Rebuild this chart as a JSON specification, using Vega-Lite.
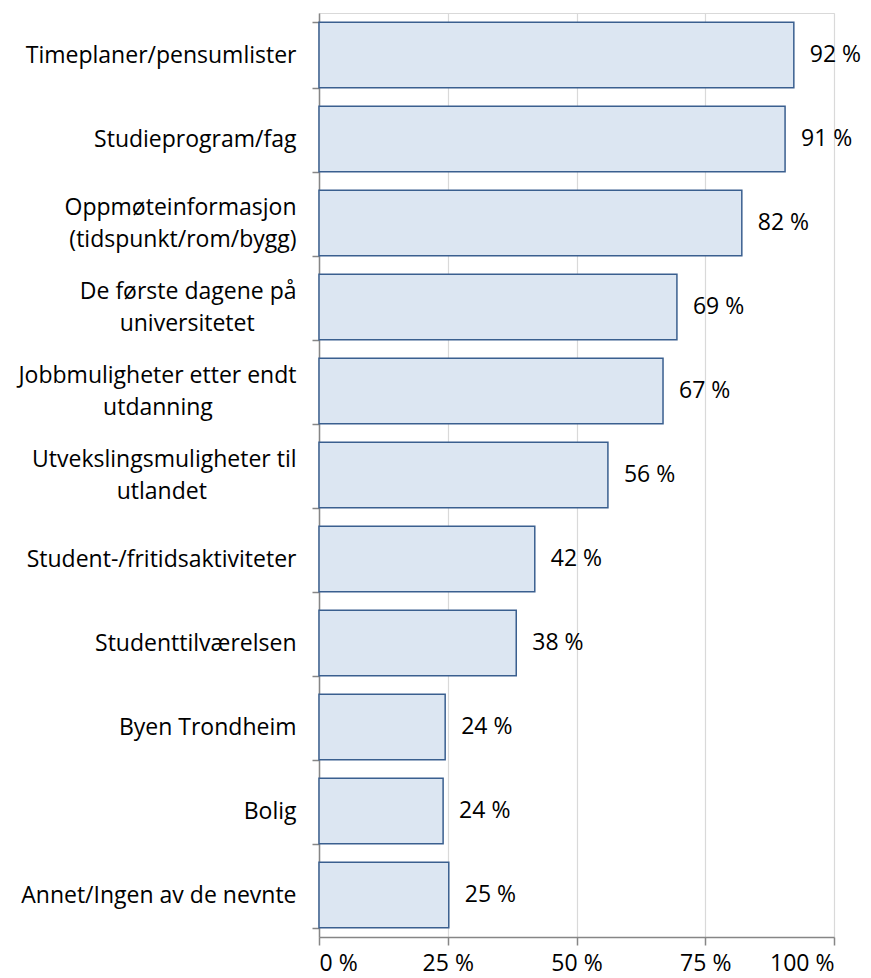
{
  "$schema": "https://vega.github.io/schema/vega-lite/v6.json",
  "autosize": {"type": "none"},
  "padding": {"left": 319, "top": 13, "right": 37, "bottom": 41},
  "width": 515,
  "height": 924,
  "background": "white",
  "config": {
    "view": {"stroke": "#d9d9d9", "strokeWidth": 1},
    "font": "Open Sans"
  },
  "data": {
    "values": [
      {"key": "a", "value": 0.922, "label": "92 %"},
      {"key": "b", "value": 0.905, "label": "91 %"},
      {"key": "c", "value": 0.821, "label": "82 %"},
      {"key": "d", "value": 0.695, "label": "69 %"},
      {"key": "e", "value": 0.668, "label": "67 %"},
      {"key": "f", "value": 0.561, "label": "56 %"},
      {"key": "g", "value": 0.419, "label": "42 %"},
      {"key": "h", "value": 0.383, "label": "38 %"},
      {"key": "i", "value": 0.245, "label": "24 %"},
      {"key": "j", "value": 0.241, "label": "24 %"},
      {"key": "k", "value": 0.252, "label": "25 %"}
    ]
  },
  "encoding": {
    "y": {
      "field": "key",
      "type": "nominal",
      "sort": null,
      "scale": {"paddingInner": 0.22, "paddingOuter": 0.11},
      "axis": {
        "title": null,
        "labelExpr": "{'a':['Timeplaner/pensumlister'],'b':['Studieprogram/fag'],'c':['Oppmøteinformasjon','(tidspunkt/rom/bygg)'],'d':['De første dagene på','universitetet\u00a0\u00a0\u00a0\u00a0\u00a0\u00a0\u00a0\u200b'],'e':['Jobbmuligheter etter endt','utdanning\u00a0\u00a0\u00a0\u00a0\u00a0\u00a0\u00a0\u00a0\u00a0\u00a0\u00a0\u00a0\u00a0\u00a0\u200b'],'f':['Utvekslingsmuligheter til','utlandet\u00a0\u00a0\u00a0\u00a0\u00a0\u00a0\u00a0\u00a0\u00a0\u00a0\u00a0\u00a0\u00a0\u00a0\u00a0\u200b'],'g':['Student-/fritidsaktiviteter'],'h':['Studenttilværelsen'],'i':['Byen Trondheim'],'j':['Bolig'],'k':['Annet/Ingen av de nevnte']}[datum.value]",
        "labelOffset": {"condition": {"test": "indexof(['c','d','e','f'], datum.value) >= 0", "value": -16}, "value": 0},
        "tickBand": "extent",
        "tickSize": 7,
        "tickColor": "#868686",
        "domainColor": "#868686",
        "domainWidth": 1.5,
        "tickWidth": 1.5,
        "labelFontSize": 23,
        "labelColor": "#000000",
        "labelPadding": 16,
        "labelLineHeight": 32,
        "labelLimit": 330
      }
    }
  },
  "layer": [
    {
      "mark": {"type": "bar", "fill": "#dce6f2", "stroke": "#3a5f8f", "strokeWidth": 1.5},
      "encoding": {
        "x": {
          "field": "value",
          "type": "quantitative",
          "scale": {"domain": [0, 1]},
          "axis": {
            "title": null,
            "values": [0, 0.25, 0.5, 0.75, 1],
            "labelExpr": "format(datum.value*100,'d') + ' %'",
            "grid": true,
            "gridColor": "#d9d9d9",
            "gridWidth": 1.2,
            "tickSize": 8,
            "tickColor": "#868686",
            "domainColor": "#868686",
            "domainWidth": 1.5,
            "tickWidth": 1.5,
            "labelFontSize": 23,
            "labelColor": "#000000",
            "labelPadding": 7
          }
        }
      }
    },
    {
      "mark": {"type": "text", "align": "left", "baseline": "middle", "dx": 16, "fontSize": 23, "color": "#000000"},
      "encoding": {
        "x": {"field": "value", "type": "quantitative"},
        "text": {"field": "label"}
      }
    }
  ]
}
